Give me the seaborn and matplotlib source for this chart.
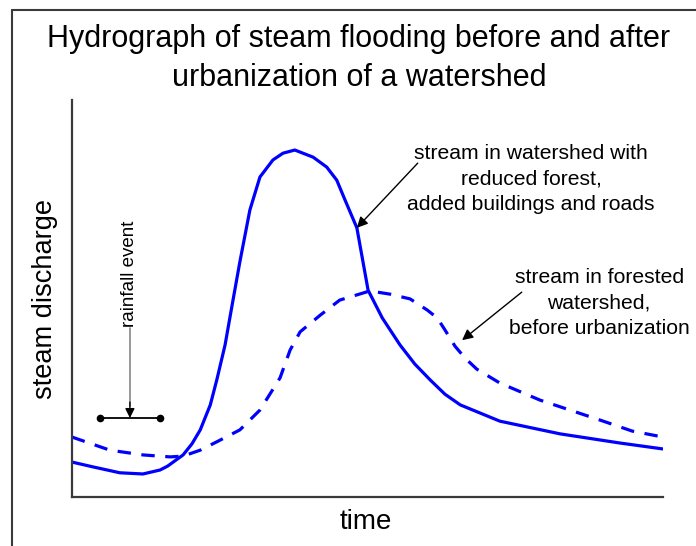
import matplotlib
matplotlib.use("Agg")
import matplotlib.pyplot as plt
import seaborn as sns
from matplotlib.lines import Line2D

sns.set_style("white")
plt.rcParams['font.family'] = ['Liberation Sans', 'DejaVu Sans']
plt.rcParams['text.color'] = 'black'

# Urbanized watershed (solid)
urban_time = [0.0, 3.5, 8.1, 12.0, 14.9, 16.2, 17.4, 18.8, 20.3, 21.7, 23.4, 24.5,
              25.9, 27.1, 28.4, 30.1, 31.8, 34.0, 35.7, 37.7, 40.8, 43.1, 44.8,
              46.2, 48.2, 50.1, 52.5, 55.5, 58.0, 60.6, 63.1, 65.7, 72.4, 82.6,
              92.7, 100.0]
urban_q = [8.8, 7.6, 6.1, 5.8, 6.8, 7.8, 9.1, 10.6, 13.4, 16.9, 23.2, 29.5,
           38.3, 48.4, 59.2, 72.3, 80.6, 84.9, 86.6, 87.4, 85.6, 83.1, 79.8,
           74.8, 67.8, 52.1, 45.1, 38.3, 33.5, 29.5, 25.9, 23.2, 19.1, 15.9,
           13.6, 12.1]

# Forested watershed (dashed)
forest_time = [0.0, 6.4, 12.0, 16.6, 18.8, 21.7, 24.5, 28.4, 31.8, 35.2, 36.9,
               38.6, 42.0, 45.3, 50.4, 53.8, 57.2, 60.1, 61.8, 63.1, 64.8, 66.5,
               68.5, 72.4, 79.2, 89.3, 94.8, 100.0]
forest_q = [15.1, 11.8, 10.6, 10.1, 10.3, 11.8, 13.9, 16.9, 21.9, 30.0, 37.0,
            41.6, 45.8, 49.6, 51.9, 51.1, 49.9, 47.1, 45.1, 42.1, 38.0, 35.0,
            32.2, 28.7, 24.4, 19.4, 16.6, 15.1]

rain_start, rain_end, rain_level = 4.7, 14.9, 19.9

title = "Hydrograph of steam flooding before and after\nurbanization of a watershed"
urban_label = "stream in watershed with\nreduced forest,\nadded buildings and roads"
forest_label = "stream in forested\nwatershed,\nbefore urbanization"

W, H = 696, 546
fig = plt.figure(figsize=(W / 100, H / 100), dpi=100)
ax = fig.add_axes([72 / W, 1 - 497 / H, (663 - 72) / W, (497 - 100) / H])

blue = "#0000FF"
sns.lineplot(x=urban_time, y=urban_q, ax=ax, color=blue, lw=2.3, sort=False)
sns.lineplot(x=forest_time, y=forest_q, ax=ax, color=blue, lw=2.3, sort=False,
             linestyle=(0, (4.2, 3.3)))

ax.set_xlim(0, 100)
ax.set_ylim(0, 100)
ax.set_xticks([])
ax.set_yticks([])
for s in ["top", "right"]:
    ax.spines[s].set_visible(False)
for s in ["left", "bottom"]:
    ax.spines[s].set_color("#3a3a3a")
    ax.spines[s].set_linewidth(1.6)

# rainfall event
ax.plot([rain_start, rain_end], [rain_level, rain_level], color="black", lw=1.3,
        marker="o", markersize=4.5)
rain_mid = (rain_start + rain_end) / 2
ax.plot([rain_mid, rain_mid], [rain_level + 3, 42.6], color="#888888", lw=1.2)
ax.annotate("", xy=(rain_mid, rain_level), xytext=(rain_mid, rain_level + 4),
            arrowprops=dict(arrowstyle="-|>", color="black", lw=1.0,
                            mutation_scale=14, shrinkA=0, shrinkB=0))
ax.text(rain_mid, 56.3, "rainfall event", rotation=90, ha="center", va="center",
        fontsize=13.5)

# annotations
ax.annotate("", xy=(48.2, 67.8), xytext=(58.5, 84.1),
            arrowprops=dict(arrowstyle="-|>", color="black", lw=1.0,
                            mutation_scale=16, shrinkA=0, shrinkB=0))
ax.text(77.7, 80.1, urban_label, ha="center", va="center", fontsize=15.2,
        multialignment="center", linespacing=1.43)
ax.annotate("", xy=(66.0, 39.5), xytext=(76.1, 51.6),
            arrowprops=dict(arrowstyle="-|>", color="black", lw=1.0,
                            mutation_scale=16, shrinkA=0, shrinkB=0),
            annotation_clip=False)
ax.text(89.2, 48.9, forest_label, ha="center", va="center", fontsize=15.2,
        multialignment="center", linespacing=1.41, clip_on=False)

# titles and labels
fig.text(359 / W, 1 - 58.5 / H, title, ha="center", va="center", fontsize=22,
         multialignment="center", linespacing=1.36)
fig.text(366 / W, 1 - 522 / H, "time", ha="center", va="center", fontsize=20)
fig.text(45 / W, 1 - 299 / H, "steam discharge", ha="center", va="center",
         fontsize=19.6, rotation=90)

# partial frame
fig.add_artist(Line2D([12 / W, 12 / W], [0, 1 - 10 / H], transform=fig.transFigure,
                      color="#3a3a3a", lw=1.5))
fig.add_artist(Line2D([12 / W, 1], [1 - 10 / H, 1 - 10 / H], transform=fig.transFigure,
                      color="#3a3a3a", lw=1.5))

fig.savefig("out.png", dpi=100)
